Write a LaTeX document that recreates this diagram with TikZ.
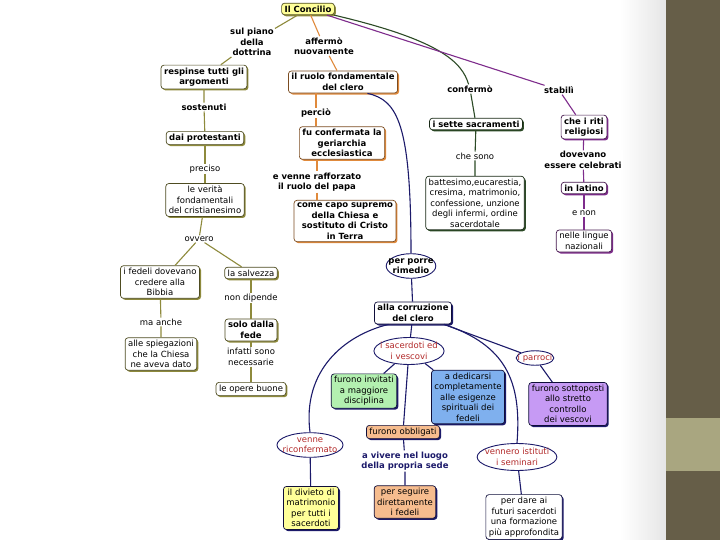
\documentclass[tikz,border=0pt]{standalone}
\usepackage{fontspec}
\setmainfont{DejaVu Sans}
\usetikzlibrary{shapes.geometric,shadows}
\definecolor{OliveLine}{HTML}{8E8A3C}
\definecolor{OrangeLine}{HTML}{E08A3C}
\definecolor{NavyLine}{HTML}{1C1A6A}
\definecolor{GreenLine}{HTML}{2C4A26}
\definecolor{PurpleLine}{HTML}{7E2C8C}
\definecolor{RiteRed}{HTML}{B22A2A}
\definecolor{PaleYellow}{HTML}{FFFF99}
\definecolor{MintFill}{HTML}{B3F0B0}
\definecolor{SkyFill}{HTML}{7FB0EE}
\definecolor{PeachFill}{HTML}{F6BC8E}
\definecolor{LilacFill}{HTML}{C69AF4}
\definecolor{SlideBand}{HTML}{665E48}
\definecolor{SlideStripe}{HTML}{A9A680}
\newcommand\mapfont{\fontsize{8.5}{10.5}\selectfont}

\begin{document}
\begin{tikzpicture}[x=1pt,y=1pt,
  concept/.style={draw=#1!55!black,fill=white,rounded corners=3pt,line width=0.7pt,
    align=center,inner xsep=3pt,inner ysep=2.5pt,font=\mapfont,
    drop shadow={shadow xshift=1.5pt,shadow yshift=-1.5pt,fill=#1,opacity=1}},
  link/.style={fill=white,align=center,inner sep=1pt,font=\mapfont},
  strong/.style={font=\mapfont\bfseries},
  oval/.style={ellipse,draw=NavyLine,line width=0.9pt,fill=white,align=center,
    inner xsep=-4pt,inner ysep=1pt,font=\mapfont,text=RiteRed},
  oline/.style={draw=OliveLine,line width=1.1pt},
  rline/.style={draw=OrangeLine,line width=1.1pt},
  nline/.style={draw=NavyLine,line width=1.1pt},
  gline/.style={draw=GreenLine,line width=1.1pt},
  pline/.style={draw=PurpleLine,line width=1.1pt}]
  \useasboundingbox (0,0) rectangle (720,-540);
  \fill[white] (0,0) rectangle (720,-540);
  \shade[left color=white,right color=black!10] (620,0) rectangle (666,-540);
  \fill[SlideBand] (666,0) rectangle (720,-540);
  \fill[SlideStripe] (666,-418) rectangle (720,-471);

  \node[concept=OliveLine,fill=PaleYellow,strong] (concilio) at (308,-9) {Il Concilio};

  \node[link,strong] (dottrina) at (252,-42) {sul piano\\della\\dottrina};
  \node[concept=OliveLine,strong] (respinse) at (204,-77) {respinse tutti gli\\argomenti};
  \node[link,strong] (sostenuti) at (204,-107) {sostenuti};
  \node[concept=OliveLine,strong] (protestanti) at (205,-138) {dai protestanti};
  \node[link] (preciso) at (205,-169) {preciso};
  \node[concept=OliveLine] (verita) at (205,-200) {le verità\\fondamentali\\del cristianesimo};
  \node[link] (ovvero) at (199,-239) {ovvero};
  \node[concept=OliveLine] (fedeli) at (160,-282) {i fedeli dovevano\\credere alla\\Bibbia};
  \node[concept=OliveLine] (salvezza) at (251,-273) {la salvezza};
  \node[link] (maanche) at (161,-322) {ma anche};
  \node[concept=OliveLine] (spiegazioni) at (161,-354) {alle spiegazioni\\che la Chiesa\\ne aveva dato};
  \node[link] (nondipende) at (251,-298) {non dipende};
  \node[concept=OliveLine,strong] (solofede) at (251,-330) {solo dalla\\fede};
  \node[link] (infatti) at (251,-357) {infatti sono\\necessarie};
  \node[concept=OliveLine] (opere) at (251,-389) {le opere buone};

  \node[link,strong] (affermo) at (324,-46) {affermò\\nuovamente};
  \node[concept=OrangeLine,strong] (ruolo) at (343,-82) {il ruolo fondamentale\\del clero};
  \node[link,strong] (percio) at (316,-113) {perciò};
  \node[concept=OrangeLine,strong] (confermata) at (342,-143) {fu confermata la\\geriarchia\\ecclesiastica};
  \node[link,strong] (rafforzato) at (317,-182) {e venne rafforzato\\il ruolo del papa};
  \node[concept=OrangeLine,strong] (capo) at (345,-221) {come capo supremo\\della Chiesa e\\sostituto di Cristo\\in Terra};

  \node[oval,strong,text=black,inner xsep=-5pt] (rimedio) at (411,-266) {per porre\\rimedio};
  \node[concept=NavyLine,strong] (corruzione) at (413,-313) {alla corruzione\\del clero};
  \node[oval] (sacerdoti) at (409,-351) {i sacerdoti ed\\i vescovi};
  \node[concept=NavyLine,fill=MintFill] (invitati) at (364,-391) {furono invitati\\a maggiore\\disciplina};
  \node[concept=NavyLine,fill=SkyFill] (dedicarsi) at (468,-397) {a dedicarsi\\completamente\\alle esigenze\\spirituali dei\\fedeli};
  \node[concept=NavyLine,fill=PeachFill] (obbligati) at (403,-432) {furono obbligati};
  \node[link,strong,text=NavyLine] (vivere) at (405,-461) {a vivere nel luogo\\della propria sede};
  \node[concept=NavyLine,fill=PeachFill] (seguire) at (405,-502) {per seguire\\direttamente\\i fedeli};
  \node[oval] (riconfermato) at (310,-445) {venne\\riconfermato};
  \node[concept=NavyLine,fill=PaleYellow] (divieto) at (311,-508) {il divieto di\\matrimonio\\per tutti i\\sacerdoti};
  \node[oval] (parroci) at (535,-358) {i parroci};
  \node[concept=NavyLine,fill=LilacFill] (sottoposti) at (568,-404) {furono sottoposti\\allo stretto\\controllo\\dei vescovi};
  \node[oval] (seminari) at (517,-457) {vennero istituti\\i seminari};
  \node[concept=NavyLine] (formazione) at (524,-517) {per dare ai\\futuri sacerdoti\\una formazione\\più approfondita};

  \node[link,strong] (confermo) at (470,-89) {confermò};
  \node[concept=GreenLine,strong] (sacramenti) at (476,-124) {i sette sacramenti};
  \node[link] (chesono) at (475,-156) {che sono};
  \node[concept=GreenLine] (elenco) at (475,-203) {battesimo,eucarestia,\\cresima, matrimonio,\\confessione, unzione\\degli infermi, ordine\\sacerdotale};

  \node[link,strong] (stabili) at (559,-90) {stabilì};
  \node[concept=PurpleLine,strong] (riti) at (584,-127) {che i riti\\religiosi};
  \node[link,strong] (dovevano) at (583,-160) {dovevano\\essere celebrati};
  \node[concept=PurpleLine,strong] (latino) at (584,-188) {in latino};
  \node[link] (enon) at (584,-213) {e non};
  \node[concept=PurpleLine] (lingue) at (584,-241) {nelle lingue\\nazionali};

  % connettori
  \draw[oline] (concilio) -- (dottrina) (dottrina) -- (respinse);
  \draw[oline] (respinse) -- (sostenuti) (sostenuti) -- (protestanti);
  \draw[oline] (protestanti) -- (preciso) (preciso) -- (verita);
  \draw[oline] (verita) -- (ovvero) (ovvero) -- (fedeli) (ovvero) -- (salvezza);
  \draw[oline] (fedeli) -- (maanche) (maanche) -- (spiegazioni);
  \draw[oline] (salvezza) -- (nondipende) (nondipende) -- (solofede);
  \draw[oline] (solofede) -- (infatti) (infatti) -- (opere);

  \draw[rline] (concilio) -- (affermo) (affermo) -- (ruolo);
  \draw[rline] (percio |- ruolo.south) -- (percio) (percio) -- (percio |- confermata.north);
  \draw[rline] (rafforzato |- confermata.south) -- (rafforzato) (rafforzato) -- (rafforzato |- capo.north);

  \draw[gline] (concilio) .. controls (440,-40) and (462,-62) .. (confermo);
  \draw[gline] (confermo) -- (sacramenti);
  \draw[gline] (sacramenti) -- (chesono) (chesono) -- (elenco);

  \draw[pline] (concilio) -- (stabili) (stabili) -- (riti);
  \draw[pline] (riti) -- (dovevano) (dovevano) -- (latino);
  \draw[pline] (latino) -- (enon) (enon) -- (lingue);

  \draw[nline] (ruolo.-25) .. controls (398,-100) and (411,-125) .. (rimedio.north);
  \draw[nline] (rimedio) -- (corruzione);
  \draw[nline] (corruzione) -- (sacerdoti);
  \draw[nline] (corruzione.-155) .. controls (345,-335) and (302,-370) .. (riconfermato.north);
  \draw[nline] (corruzione) -- (parroci);
  \draw[nline] (corruzione.-20) .. controls (505,-345) and (522,-380) .. (seminari.north);
  \draw[nline] (sacerdoti) -- (invitati) (sacerdoti) -- (obbligati) (sacerdoti) -- (dedicarsi);
  \draw[nline] (obbligati) -- (vivere) (vivere) -- (seguire);
  \draw[nline] (riconfermato) -- (divieto);
  \draw[nline] (parroci) -- (sottoposti);
  \draw[nline] (seminari) -- (formazione);
\end{tikzpicture}
\end{document}
